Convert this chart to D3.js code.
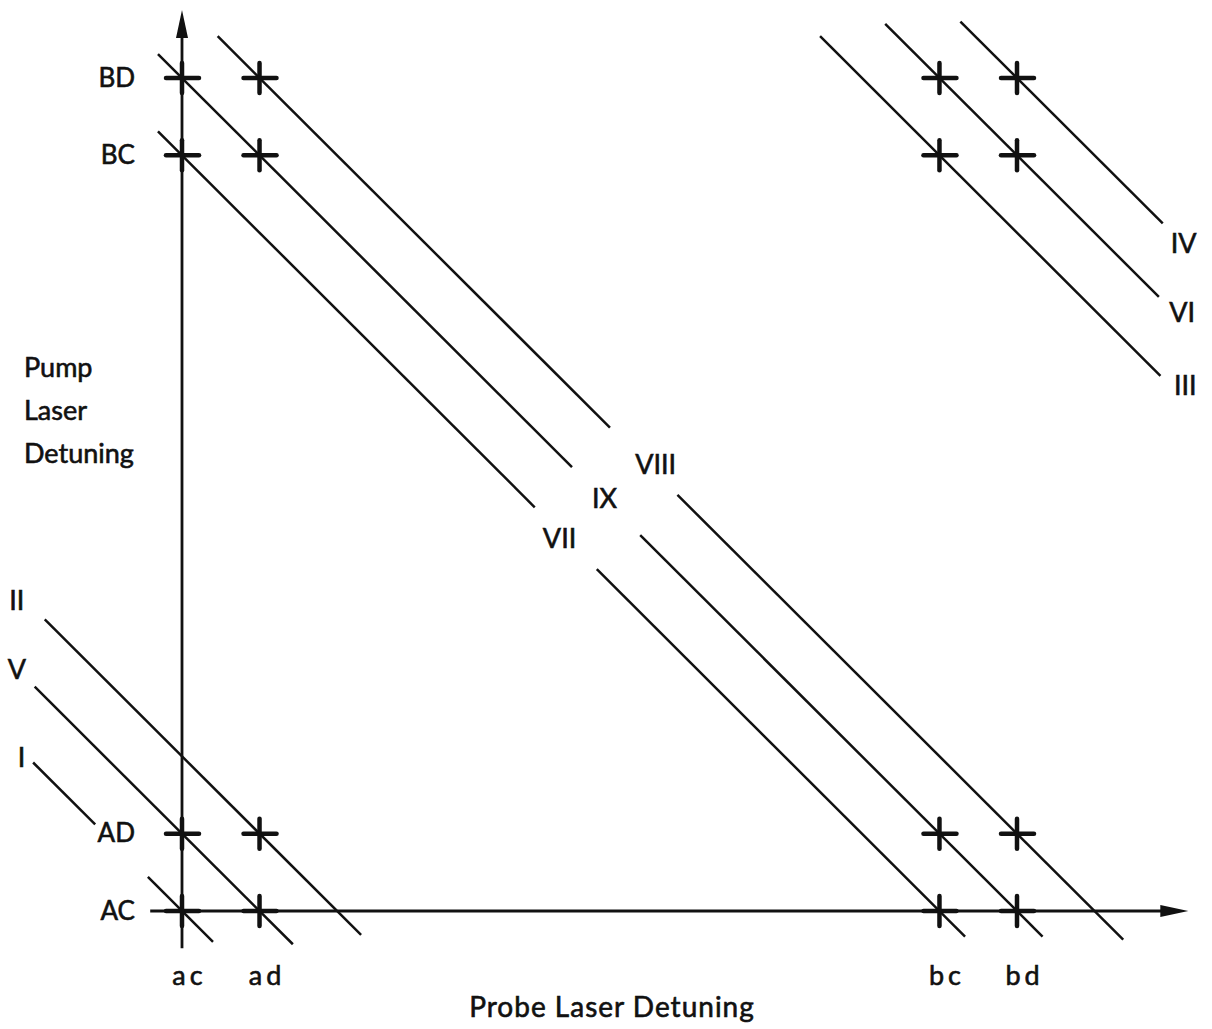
<!DOCTYPE html>
<html>
<head>
<meta charset="utf-8">
<script src="https://cdn.jsdelivr.net/npm/d3@7/dist/d3.min.js"></script>
<style>
	body { margin: 0; background: white; }
	svg text { font-family: Lato, "Open Sans", sans-serif; fill: #111; stroke: #111; stroke-width: 0.6px; }
</style>
</head>
<body>
<script>
// detuning positions of the resonances (units of the ad - ac spacing)
var probeTicks = [0, 1, 9.77, 10.77]
var probeLabels = ['ac', 'ad', 'bc', 'bd']
var pumpTicks = [0, 1, 9.77, 10.77]
var pumpLabels = ['AC', 'AD', 'BC', 'BD']

// crosses: [probe index, pump index]
var crosses = [
	[0, 0], [1, 0], [0, 1], [1, 1],
	[0, 2], [1, 2], [0, 3], [1, 3],
	[2, 2], [3, 2], [2, 3], [3, 3],
	[2, 0], [3, 0], [2, 1], [3, 1]
]

// diagonal lines probe + pump = c, drawn over probe ranges
var lineNames = ['I', 'V', 'II', 'VII', 'IX', 'VIII', 'III', 'VI', 'IV']
var lineConst = [0, 1, 2, 9.77, 10.77, 11.77, 19.54, 20.54, 21.54]
var lineSegments = [
	[[-1.92, -1.12], [-0.44, 0.4]],
	[[-1.9, 1.43]],
	[[-1.77, 2.31]],
	[[-0.31, 4.55], [5.35, 10.1]],
	[[-0.31, 5.03], [5.91, 11.1]],
	[[0.46, 5.52], [6.39, 12.14]],
	[[8.23, 12.62]],
	[[9.07, 12.6]],
	[[10.04, 12.65]]
]
// label positions [probe, pump]
var lineLabelPos = [
	[-2.07, 1.99], [-2.13, 3.12], [-2.13, 4.02],
	[4.87, 4.82], [5.45, 5.34], [6.11, 5.78],
	[12.94, 6.8], [12.9, 7.74], [12.92, 8.63]
]

var width = 1212, height = 1029

var x = d3.scaleLinear().domain([0, 10.77]).range([182, 1017])
var y = d3.scaleLinear().domain([0, 10.77]).range([911, 78])

var svg = d3.select('body').append('svg')
	.attr('width', width)
	.attr('height', height)

// diagonal lines
var segs = []
lineSegments.forEach(function(list, i) {
	list.forEach(function(s) {
		segs.push({c: lineConst[i], p0: s[0], p1: s[1]})
	})
})

svg.append('g').selectAll('line')
	.data(segs)
	.enter()
	.append('line')
		.attr('x1', d => x(d.p0))
		.attr('y1', d => y(d.c - d.p0))
		.attr('x2', d => x(d.p1))
		.attr('y2', d => y(d.c - d.p1))
		.attr('stroke', '#111')
		.attr('stroke-width', 2.5)

// axes
var axes = svg.append('g')
axes.append('line')
	.attr('x1', x(0)).attr('x2', x(0))
	.attr('y1', y(-0.48)).attr('y2', y(11.3))
	.attr('stroke', '#111').attr('stroke-width', 2.8)
axes.append('line')
	.attr('x1', x(-0.41)).attr('x2', x(12.7))
	.attr('y1', y(0)).attr('y2', y(0))
	.attr('stroke', '#111').attr('stroke-width', 2.8)

axes.append('path')
	.attr('d', 'M' + x(0) + ',' + y(11.65) +
		' L' + (x(0) + 6) + ',' + (y(11.65) + 28) +
		' L' + (x(0) - 6) + ',' + (y(11.65) + 28) + ' Z')
	.attr('fill', '#111')
axes.append('path')
	.attr('d', 'M' + x(12.98) + ',' + y(0) +
		' L' + (x(12.98) - 28) + ',' + (y(0) - 6) +
		' L' + (x(12.98) - 28) + ',' + (y(0) + 6) + ' Z')
	.attr('fill', '#111')

// crosses
var cr = svg.append('g').selectAll('g')
	.data(crosses)
	.enter()
	.append('g')
		.attr('transform', d => 'translate(' + x(probeTicks[d[0]]) + ',' + y(pumpTicks[d[1]]) + ')')
cr.append('line')
	.attr('x1', -16).attr('x2', 17).attr('y1', 0).attr('y2', 0)
	.attr('stroke', '#111').attr('stroke-width', 4.5).attr('stroke-linecap', 'round')
cr.append('line')
	.attr('x1', 0).attr('x2', 0).attr('y1', -15).attr('y2', 15)
	.attr('stroke', '#111').attr('stroke-width', 4.5).attr('stroke-linecap', 'round')

// tick labels through d3 axes
var xAxis = svg.append('g')
	.attr('transform', 'translate(0,' + y(0) + ')')
	.call(d3.axisBottom(x).tickValues(probeTicks).tickFormat((d, i) => probeLabels[i]).tickSize(0).tickPadding(55))
xAxis.select('.domain').remove()
xAxis.selectAll('text')
	.style('font-family', 'Lato, sans-serif')
	.style('font-size', '27px')
	.style('letter-spacing', '4px')
	.attr('dx', 7)
	.attr('fill', '#111')

var yAxis = svg.append('g')
	.attr('transform', 'translate(' + x(0) + ',0)')
	.call(d3.axisLeft(y).tickValues(pumpTicks).tickFormat((d, i) => pumpLabels[i]).tickSize(0).tickPadding(47))
yAxis.select('.domain').remove()
yAxis.selectAll('text')
	.style('font-family', 'Lato, sans-serif')
	.style('font-size', '26px')
	.attr('fill', '#111')

// line labels
svg.append('g').selectAll('text')
	.data(lineNames)
	.enter()
	.append('text')
		.attr('x', (d, i) => x(lineLabelPos[i][0]))
		.attr('y', (d, i) => y(lineLabelPos[i][1]))
		.attr('dy', '0.36em')
		.attr('text-anchor', 'middle')
		.style('font-size', '27px')
		.text(d => d)

// axis titles
svg.append('text')
	.attr('x', 612)
	.attr('y', 1017)
	.attr('text-anchor', 'middle')
	.style('font-size', '28px')
	.style('letter-spacing', '1px')
	.text('Probe Laser Detuning')

var pumpTitle = ['Pump', 'Laser', 'Detuning']
svg.append('g').selectAll('text')
	.data(pumpTitle)
	.enter()
	.append('text')
		.attr('x', 24)
		.attr('y', (d, i) => 377 + i * 43)
		.style('font-size', '27px')
		.text(d => d)
</script>
</body>
</html>
